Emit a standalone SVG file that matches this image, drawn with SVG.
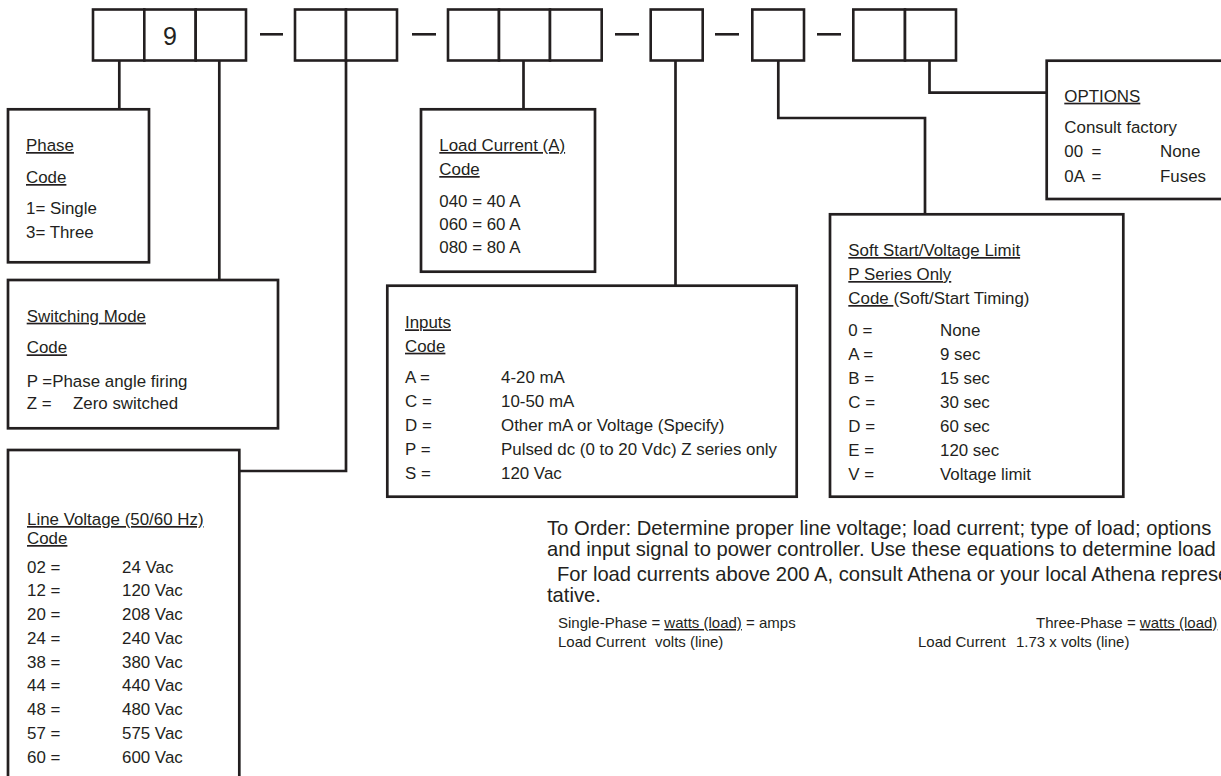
<svg xmlns="http://www.w3.org/2000/svg" width="1221" height="776" viewBox="0 0 1221 776">
<style>
.bx{fill:#fff;stroke:#231f20;stroke-width:2.7}
.cell{fill:#fff;stroke:#231f20;stroke-width:2.6}
.dash{stroke:#231f20;stroke-width:2.6}
.con{fill:none;stroke:#231f20;stroke-width:2.7}
text{font-family:"Liberation Sans",Arial,sans-serif;fill:#231f20}
.t{font-size:16.9px}
.p{font-size:20.2px}
.e{font-size:15px}
.u{text-decoration:underline}
</style>
<rect width="1221" height="776" fill="#fff"/>
<g id="connectors">
<path class="con" d="M119.3 60.5V109.3"/>
<path class="con" d="M219.3 60.5V280"/>
<path class="con" d="M346 60.5V471H239.3"/>
<path class="con" d="M523.5 60.5V109.3"/>
<path class="con" d="M675.5 60.5V285.7"/>
<path class="con" d="M778.3 60.5V118H925V214.3"/>
<path class="con" d="M929.5 60.5V92.7H1046.7"/>
</g>
<g id="code">
<g id="seg-phase-switching">
<rect class="cell" x="93" y="9.5" width="51.3" height="51"/>
<rect class="cell" x="144.3" y="9.5" width="51.4" height="51"/>
<rect class="cell" x="195.7" y="9.5" width="50.3" height="51"/>
<text x="170" y="44.5" font-size="25" text-anchor="middle">9</text>
</g>
<line class="dash" x1="260" y1="34.3" x2="283" y2="34.3"/>
<g id="seg-voltage">
<rect class="cell" x="295" y="9.5" width="51" height="51"/>
<rect class="cell" x="346" y="9.5" width="51" height="51"/>
</g>
<line class="dash" x1="412" y1="34.3" x2="436" y2="34.3"/>
<g id="seg-current">
<rect class="cell" x="448" y="9.5" width="51" height="51"/>
<rect class="cell" x="499" y="9.5" width="51" height="51"/>
<rect class="cell" x="550" y="9.5" width="51.7" height="51"/>
</g>
<line class="dash" x1="615" y1="34.3" x2="639" y2="34.3"/>
<g id="seg-inputs">
<rect class="cell" x="650.7" y="9.5" width="52" height="51"/>
</g>
<line class="dash" x1="715" y1="34.3" x2="739" y2="34.3"/>
<g id="seg-softstart">
<rect class="cell" x="752.3" y="9.5" width="51.7" height="51"/>
</g>
<line class="dash" x1="817" y1="34.3" x2="841" y2="34.3"/>
<g id="seg-options">
<rect class="cell" x="853.3" y="9.5" width="51.7" height="51"/>
<rect class="cell" x="905" y="9.5" width="51" height="51"/>
</g>
</g>
<g id="phase">
<rect class="bx" x="8" y="109.3" width="141" height="153"/>
<text class="t" x="26" y="151"><tspan class="u">Phase</tspan></text>
<text class="t" x="26" y="183"><tspan class="u">Code</tspan></text>
<text class="t" x="26" y="214">1= Single</text>
<text class="t" x="26" y="238">3= Three</text>
</g>
<g id="switching">
<rect class="bx" x="8" y="280" width="270" height="148.3"/>
<text class="t" x="26.7" y="321.7"><tspan class="u">Switching Mode</tspan></text>
<text class="t" x="26.7" y="353.3"><tspan class="u">Code</tspan></text>
<text class="t" x="26.7" y="386.7">P =Phase angle firing</text>
<text class="t" x="26.7" y="409.3">Z =</text>
<text class="t" x="73" y="409.3">Zero switched</text>
</g>
<g id="line-voltage">
<rect class="bx" x="8" y="450" width="231.3" height="340"/>
<text class="t" x="27" y="525"><tspan class="u">Line Voltage (50/60 Hz)</tspan></text>
<text class="t" x="27" y="544"><tspan class="u">Code</tspan></text>
<text class="t" x="27" y="572.7">02 =</text><text class="t" x="122" y="572.7">24 Vac</text>
<text class="t" x="27" y="596.4">12 =</text><text class="t" x="122" y="596.4">120 Vac</text>
<text class="t" x="27" y="620.2">20 =</text><text class="t" x="122" y="620.2">208 Vac</text>
<text class="t" x="27" y="643.9">24 =</text><text class="t" x="122" y="643.9">240 Vac</text>
<text class="t" x="27" y="667.7">38 =</text><text class="t" x="122" y="667.7">380 Vac</text>
<text class="t" x="27" y="691.4">44 =</text><text class="t" x="122" y="691.4">440 Vac</text>
<text class="t" x="27" y="715.2">48 =</text><text class="t" x="122" y="715.2">480 Vac</text>
<text class="t" x="27" y="738.9">57 =</text><text class="t" x="122" y="738.9">575 Vac</text>
<text class="t" x="27" y="762.7">60 =</text><text class="t" x="122" y="762.7">600 Vac</text>
</g>
<g id="load-current">
<rect class="bx" x="421" y="109.3" width="174" height="162.4"/>
<text class="t" x="439.3" y="151"><tspan class="u">Load Current (A)</tspan></text>
<text class="t" x="439.3" y="175"><tspan class="u">Code</tspan></text>
<text class="t" x="439.3" y="206.7">040 = 40 A</text>
<text class="t" x="439.3" y="230">060 = 60 A</text>
<text class="t" x="439.3" y="253.3">080 = 80 A</text>
</g>
<g id="inputs">
<rect class="bx" x="387.3" y="285.7" width="409.4" height="211"/>
<text class="t" x="405" y="328.3"><tspan class="u">Inputs</tspan></text>
<text class="t" x="405" y="351.7"><tspan class="u">Code</tspan></text>
<text class="t" x="405" y="383.3">A =</text><text class="t" x="501" y="383.3">4-20 mA</text>
<text class="t" x="405" y="407.3">C =</text><text class="t" x="501" y="407.3">10-50 mA</text>
<text class="t" x="405" y="431.3">D =</text><text class="t" x="501" y="431.3">Other mA or Voltage (Specify)</text>
<text class="t" x="405" y="455.3">P =</text><text class="t" x="501" y="455.3">Pulsed dc (0 to 20 Vdc) Z series only</text>
<text class="t" x="405" y="479.3">S =</text><text class="t" x="501" y="479.3">120 Vac</text>
</g>
<g id="soft-start">
<rect class="bx" x="830" y="214.3" width="293.3" height="282.4"/>
<text class="t" x="848.3" y="256"><tspan class="u">Soft Start/Voltage Limit</tspan></text>
<text class="t" x="848.3" y="280"><tspan class="u">P Series Only</tspan></text>
<text class="t" x="848.3" y="304"><tspan class="u">Code </tspan>(Soft/Start Timing)</text>
<text class="t" x="848.3" y="336">0 =</text><text class="t" x="940" y="336">None</text>
<text class="t" x="848.3" y="360">A =</text><text class="t" x="940" y="360">9 sec</text>
<text class="t" x="848.3" y="384">B =</text><text class="t" x="940" y="384">15 sec</text>
<text class="t" x="848.3" y="408">C =</text><text class="t" x="940" y="408">30 sec</text>
<text class="t" x="848.3" y="432">D =</text><text class="t" x="940" y="432">60 sec</text>
<text class="t" x="848.3" y="456">E =</text><text class="t" x="940" y="456">120 sec</text>
<text class="t" x="848.3" y="480">V =</text><text class="t" x="940" y="480">Voltage limit</text>
</g>
<g id="options">
<rect class="bx" x="1046.7" y="60.7" width="190" height="138.3"/>
<text class="t" x="1064.3" y="101.7"><tspan class="u">OPTIONS</tspan></text>
<text class="t" x="1064.3" y="133.3">Consult factory</text>
<text class="t" x="1064.3" y="157.3">00</text><text class="t" x="1091.5" y="157.3">=</text><text class="t" x="1160" y="157.3">None</text>
<text class="t" x="1064.3" y="181.7">0A</text><text class="t" x="1091.5" y="181.7">=</text><text class="t" x="1160" y="181.7">Fuses</text>
</g>
<g id="ordering-notes">
<text class="p" x="547" y="535">To Order: Determine proper line voltage; load current; type of load; options</text>
<text class="p" x="547" y="556">and input signal to power controller. Use these equations to determine load</text>
<text class="p" x="557" y="581">For load currents above 200 A, consult Athena or your local Athena represen-</text>
<text class="p" x="547" y="602">tative.</text>
<text class="e" x="558" y="628">Single-Phase = <tspan class="u">watts (load)</tspan> = amps</text>
<text class="e" x="558" y="647">Load Current</text>
<text class="e" x="655" y="647">volts (line)</text>
<text class="e" x="1036" y="628">Three-Phase = <tspan class="u">watts (load)</tspan></text>
<text class="e" x="918" y="647">Load Current</text>
<text class="e" x="1016" y="647">1.73 x volts (line)</text>
</g>
</svg>
